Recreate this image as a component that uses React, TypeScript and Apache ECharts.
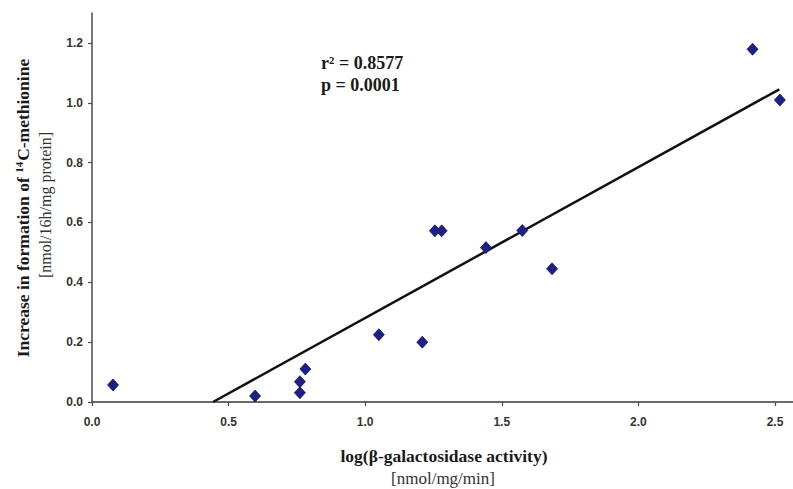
import React, { useEffect, useRef } from "react";
import * as echarts from "echarts";

const xValues = [0.077, 0.597, 0.761, 0.761, 0.781, 1.05, 1.209, 1.255, 1.28, 1.442, 1.575, 1.684, 2.418, 2.518];
const yValues = [0.057, 0.02, 0.031, 0.068, 0.11, 0.225, 0.2, 0.572, 0.572, 0.516, 0.573, 0.445, 1.179, 1.009];
const fitX = [0.443, 2.516];
const fitY = [0.0, 1.045];
const xTicks = [0, 0.5, 1.0, 1.5, 2.0, 2.5];
const yTicks = [0, 0.2, 0.4, 0.6, 0.8, 1.0, 1.2];
const statsLines = ["r² = 0.8577", "p = 0.0001"];
const xTitle = "log(β-galactosidase activity)";
const xUnit = "[nmol/mg/min]";
const yTitleA = "Increase in formation of ";
const yTitleSup = "14";
const yTitleB = "C-methionine";
const yUnit = "[nmol/16h/mg protein]";

const isTick = (v: number, ticks: number[]) => ticks.some((t) => Math.abs(t - v) < 1e-6);

export default function App() {
  const ref = useRef<HTMLDivElement>(null);
  useEffect(() => {
    if (!ref.current) return;
    const chart = echarts.init(ref.current, undefined, { renderer: "svg" });
    const tickFont = {
      fontFamily: "'Liberation Sans Narrow', 'Liberation Sans', Arial, sans-serif",
      fontWeight: "bold" as const,
      fontSize: 12,
      color: "#333333",
    };
    const serif = "'Liberation Serif', 'Times New Roman', serif";
    chart.setOption({
      animation: false,
      backgroundColor: "#ffffff",
      grid: { left: 92, right: 0, top: 13, bottom: 87, containLabel: false },
      xAxis: [
        {
          type: "value",
          min: 0,
          max: 2.566,
          interval: 0.5,
          splitLine: { show: false },
          axisLine: { show: true, onZero: false, lineStyle: { color: "#4a4a4a", width: 1.5 } },
          axisTick: { show: true, length: 4, lineStyle: { color: "#4a4a4a", width: 1.2 } },
          axisLabel: {
            ...tickFont,
            margin: 14,
            showMaxLabel: false,
            formatter: (v: number) => (isTick(v, xTicks) ? v.toFixed(1) : ""),
          },
        },
        {
          type: "value",
          position: "top",
          min: 0,
          max: 2.566,
          axisLine: { show: true, lineStyle: { color: "#6a6a6a", width: 2 } },
          axisTick: { show: false },
          axisLabel: { show: false },
          splitLine: { show: false },
        },
      ],
      yAxis: {
        type: "value",
        min: 0,
        max: 1.3,
        interval: 0.2,
        splitLine: { show: false },
        axisLine: { show: true, onZero: false, lineStyle: { color: "#4a4a4a", width: 1.5 } },
        axisTick: { show: true, length: 4, lineStyle: { color: "#4a4a4a", width: 1.2 } },
        axisLabel: {
          ...tickFont,
          margin: 9,
          showMaxLabel: false,
          formatter: (v: number) => (isTick(v, yTicks) ? v.toFixed(1) : ""),
        },
      },
      graphic: [
        {
          type: "text",
          left: 321,
          top: 52,
          style: {
            text: statsLines.join("\n"),
            font: `bold 18px ${serif}`,
            fill: "#1a1a1a",
            lineHeight: 22,
          },
        },
        {
          type: "text",
          x: 444,
          y: 456,
          style: {
            text: xTitle,
            font: `bold 17.5px ${serif}`,
            fill: "#1a1a1a",
            align: "center",
            verticalAlign: "middle",
          },
        },
        {
          type: "text",
          x: 443,
          y: 478,
          style: {
            text: xUnit,
            font: `17px ${serif}`,
            fill: "#333333",
            align: "center",
            verticalAlign: "middle",
          },
        },
        {
          type: "text",
          x: 23,
          y: 208,
          rotation: Math.PI / 2,
          style: {
            text: `{b|${yTitleA}}{s|${yTitleSup}}{b|${yTitleB}}`,
            align: "center",
            verticalAlign: "middle",
            rich: {
              b: { fontFamily: serif, fontWeight: "bold", fontSize: 17.5, fill: "#1a1a1a", lineHeight: 20 },
              s: { fontFamily: serif, fontWeight: "bold", fontSize: 11, fill: "#1a1a1a", lineHeight: 20, padding: [0, 1, 8, 0] },
            },
          },
        },
        {
          type: "text",
          x: 45,
          y: 205,
          rotation: Math.PI / 2,
          style: {
            text: yUnit,
            font: `16px ${serif}`,
            fill: "#333333",
            align: "center",
            verticalAlign: "middle",
          },
        },
      ],
      series: [
        {
          type: "line",
          xAxisIndex: 0,
          data: fitX.map((x, i) => [x, fitY[i]]),
          symbol: "none",
          lineStyle: { color: "#111111", width: 2.5 },
          z: 2,
        },
        {
          type: "scatter",
          xAxisIndex: 0,
          data: xValues.map((x, i) => [x, yValues[i]]),
          symbol: "diamond",
          symbolSize: [11, 12],
          itemStyle: { color: "#1f1f8a", borderColor: "#15155a", borderWidth: 0.8, opacity: 1 },
          z: 3,
        },
      ],
    });
    return () => chart.dispose();
  }, []);
  return (
    <div
      ref={ref}
      style={{ position: "fixed", left: 0, top: 0, width: 793, height: 489, background: "#fff" }}
    />
  );
}
